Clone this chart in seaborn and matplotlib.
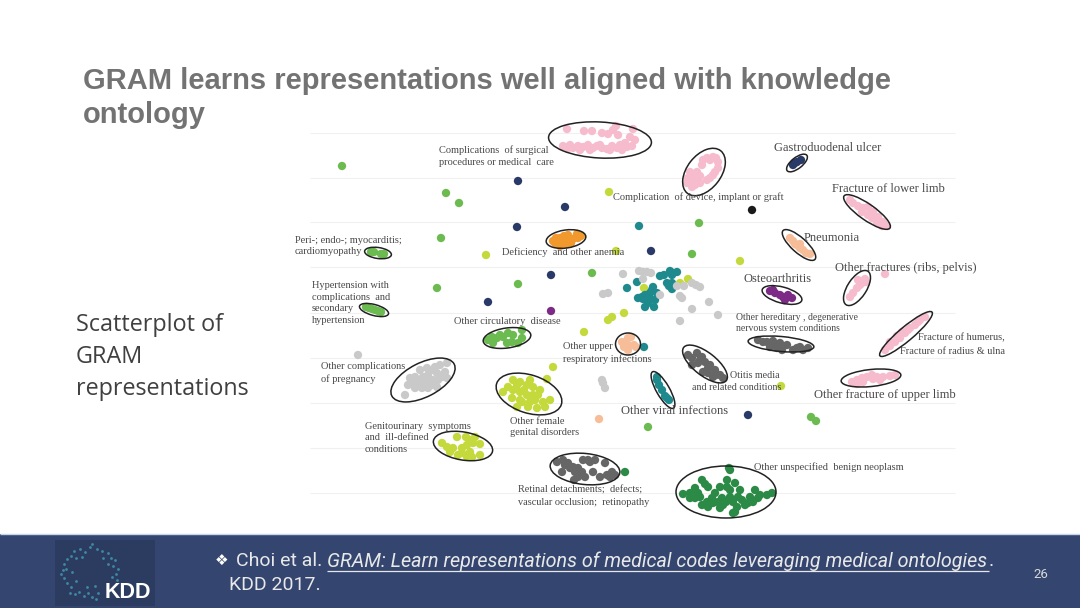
import matplotlib
matplotlib.use('Agg')
import matplotlib.pyplot as plt
from matplotlib.patches import Ellipse, Rectangle
import pandas as pd
import seaborn as sns

# points, in slide pixels
surgical = [(563,146),(568,148),(573,148),(578,146),(583,147),(588,145),(593,148),(597,146),(602,148),
            (607,149),(612,146),(617,148),(622,150),(627,147),(632,146),(635,140),(630,137),(625,143),
            (618,135),(613,130),(616,126),(608,134),(602,133),(592,131),(584,131),(567,129),(633,129),
            (570,145),(580,150),(590,150),(600,145),(610,150),(620,145)]
device = [(687,183),(692,187),(698,180),(692,177),(697,172),(702,165),(707,158),(713,157),(718,162),
          (718,168),(713,175),(707,180),(700,183),(688,178),(695,185),(715,172),(703,160),(694,182),
          (700,176),(710,160),(716,158),(710,178),(690,172)]
lower_limb = [(850,200),(853,203),(858,206),(863,208),(868,207),(873,212),(878,217),(883,222),(887,226),
              (877,222),(868,215),(862,212),(872,218),(882,226)]
other_fract = [(865,279),(862,283),(857,288),(853,293),(850,297),(858,280),(860,285),(866,282)]
humerus = [(885,350),(890,346),(895,342),(900,338),(905,333),(910,328),(915,325),(920,320),(925,317),
           (890,342),(902,332),(897,336),(908,330),(918,322)]
upper_limb = [(852,382),(857,380),(862,378),(867,377),(872,375),(877,377),(883,377),(890,376),(895,375),
              (863,382),(873,379),(885,274),(857,384),(880,380)]
pink = surgical + device + lower_limb + other_fract + humerus + upper_limb

navy = [(793,165),(797,162),(801,160),(795,163),(518,181),(565,207),(517,227),(551,275),(488,302),
        (651,251),(748,415)]
black = [(752,210)]
pneumonia = [(790,238),(793,241),(797,245),(800,248),(803,250),(806,253),(810,254),(795,244),(800,244),
             (628,338),(622,342),(626,342),(631,337),(628,345),(634,345),(624,347),(636,347),(628,350),(599,419)]
orange = [(553,241),(556,238),(560,238),(564,236),(568,235),(577,234),(581,236),(559,243),(563,241),
          (567,240),(573,239),(578,238),(566,244),(560,246),(571,243),(555,243)]
purple = [(770,291),(775,293),(780,295),(785,300),(788,295),(792,298),(783,297),(773,290),(551,311)]
light_green = [(342,166),(446,193),(459,203),(441,238),(437,288),(518,284),(692,254),(699,223),(811,417),
               (816,421),(648,427),(592,273),
               (371,252),(374,252),(384,254),(381,254),(366,307),(369,308),(372,309),(375,310),(378,311),(381,312),
               (488,340),(492,337),(497,338),(503,337),(508,333),(513,335),(512,342),(507,343),(522,330),
               (522,338),(518,343),(493,343),(500,335)]
lime = [(609,192),(486,255),(616,251),(740,261),(624,313),(608,320),(612,317),(584,332),(553,367),(547,379),
        (781,386),(644,288),(680,283),(688,279),
        (513,380),(517,385),(508,387),(503,392),(512,398),(520,392),(527,385),(533,387),(540,390),(527,395),
        (522,402),(530,402),(537,408),(545,407),(550,400),(543,402),(533,395),(517,407),(528,407),(538,395),
        (520,382),(513,390),(524,390),(535,400),(530,380),(520,400),
        (442,443),(447,447),(453,448),(457,437),(466,437),(475,437),(473,443),(467,445),(462,448),(480,444),
        (470,452),(480,455),(458,455),(472,457),(467,457),(450,452),(470,440),(462,453)]
teal = [(639,226),(627,288),(637,282),(660,276),(664,275),(670,271),(673,273),(677,272),(672,275),(667,283),
        (672,283),(669,286),(672,289),(638,298),(643,299),(647,300),(650,293),(653,287),(657,293),(645,295),
        (648,303),(645,307),(654,307),(655,300),(650,298),(642,297),(652,290),(644,347),
        (657,380),(659,385),(662,390),(665,396),(669,400),(657,377),(667,398)]
gray = [(358,355),(639,271),(643,272),(647,272),(651,273),(623,274),(603,294),(608,293),(643,279),(692,283),
        (696,285),(700,287),(684,286),(677,286),(680,296),(682,298),(709,302),(692,309),(718,315),(680,321),
        (660,295),(602,380),(603,383),(605,388),
        (412,383),(415,377),(420,370),(427,368),(433,370),(440,365),(447,363),(445,372),(442,377),(433,380),
        (428,375),(420,382),(415,388),(422,388),(428,388),(437,387),(432,385),(423,377),(405,395),(408,385),
        (417,385),(437,373),(447,378),(435,367),(410,378),(426,382),(438,380)]
dark_gray = [(557,462),(563,460),(568,463),(573,467),(562,472),(578,468),(583,460),(590,462),(595,460),
             (605,463),(612,472),(607,475),(600,477),(593,472),(585,477),(578,477),(582,472),(570,468),(615,475),(565,465),
             (575,472),(588,460),(610,477),(574,480),
             (688,355),(692,358),(697,353),(702,357),(705,362),(698,363),(692,365),(710,365),(715,370),(720,375),
             (708,373),(703,372),(713,377),(723,378),(700,360),(708,368),(716,375),
             (758,340),(767,342),(773,341),(780,343),(787,345),(777,348),(770,347),(797,348),(803,350),(793,350),
             (782,350),(808,348),(763,342),(775,344),(800,347)]
forest = [(625,472),(729,468),(683,494),(690,493),(695,488),(702,480),(708,487),(700,497),(695,498),(707,502),
          (715,493),(720,487),(727,480),(730,470),(735,483),(740,490),(730,490),(722,498),(713,503),(723,505),
          (733,502),(742,500),(750,497),(755,490),(760,495),(767,495),(753,502),(733,513),(720,508),(708,507),
          (702,505),(730,497),(745,505),(737,507),(772,493),(705,484),(727,487),(698,493),(712,498),(726,502),
          (738,497),(748,503),(758,498),(718,502),(690,498),(735,512)]

groups = ['pink', 'navy', 'black', 'peach', 'orange', 'purple', 'green', 'lime', 'teal', 'gray', 'dark gray', 'forest']
points = [pink, navy, black, pneumonia, orange, purple, light_green, lime, teal, gray, dark_gray, forest]
colors = ['#f6bccd', '#2a3a68', '#1a1a1a', '#f6bd98', '#f2992e', '#7d2a86', '#6cbb50', '#c4d93c', '#1f8a8e',
          '#c9c9c9', '#666666', '#2b8a45']

rows = []
for g, pts in zip(groups, points):
    rows += [(g, x, y) for x, y in pts]
df = pd.DataFrame(rows, columns=['group', 'x', 'y'])

grid_y = [133, 178, 222, 267, 313, 358, 403, 448, 493]

# cx, cy, long, short, angle
ellipses = [(600,140,103,36,3),(704,172,54,34,-52),(797,163,25,11,-38),(867,212,56,16,35),(799,245,43,15,42),
            (857,288,40,19,-57),(782,295,41,16,15),(566,239,40,18,-8),(378,253,27,11,8),(374,310,30,11,15),
            (507,338,48,20,-8),(423,380,70,34,-27),(529,394,68,38,18),(463,446,60,28,10),(585,469,70,31,6),
            (726,492,100,52,0),(628,344,25,22,0),(663,390,42,13,60),(705,364,54,23,38),(781,344,66,15,5),
            (906,334,68,14,-40),(871,378,60,17,-6)]

labels = [
    (439, 156, 'Complications  of surgical\nprocedures or medical  care', 7.5),
    (774, 148, 'Gastroduodenal ulcer', 9),
    (613, 197, 'Complication  of device, implant or graft', 7.5),
    (832, 189, 'Fracture of lower limb', 9),
    (804, 238, 'Pneumonia', 9),
    (295, 246, 'Peri-; endo-; myocarditis;\ncardiomyopathy', 7.5),
    (502, 252, 'Deficiency  and other anemia', 7.5),
    (835, 268, 'Other fractures (ribs, pelvis)', 9),
    (744, 279, 'Osteoarthritis', 9),
    (312, 303, 'Hypertension with\ncomplications  and\nsecondary\nhypertension', 7.5),
    (736, 323, 'Other hereditary , degenerative\nnervous system conditions', 7),
    (454, 321, 'Other circulatory  disease', 7.5),
    (918, 338, 'Fracture of humerus,', 7.5),
    (900, 351, 'Fracture of radius & ulna', 7.5),
    (563, 353, 'Other upper\nrespiratory infections', 7.5),
    (321, 373, 'Other complications\nof pregnancy', 7.5),
    (730, 375, 'Otitis media', 7.2),
    (692, 388, 'and related conditions', 7.2),
    (814, 395, 'Other fracture of upper limb', 9),
    (621, 411, 'Other viral infections', 9),
    (510, 427, 'Other female\ngenital disorders', 7.5),
    (365, 438, 'Genitourinary  symptoms\nand  ill-defined\nconditions', 7.5),
    (754, 467, 'Other unspecified  benign neoplasm', 7.5),
    (518, 496, 'Retinal detachments;  defects;\nvascular occlusion;  retinopathy', 7.4),
]

logo_dots = [(74,551),(80,549),(85,552),(90,547),(92,544),(97,549),(102,551),(108,553),(111,558),(115,560),
             (113,566),(118,569),(116,574),(112,577),(117,580),(64,564),(67,559),(71,556),(63,570),(61,574),
             (64,578),(67,583),(71,587),(70,593),(75,594),(79,592),(84,596),(88,593),(92,597),(96,599),
             (98,593),(87,587),(76,558),(82,557),(103,558),(108,564),(72,572),(76,581),(95,586),(66,569)]

fig = plt.figure(figsize=(10.8, 6.08), dpi=100)
ax = fig.add_axes([0, 0, 1, 1])
ax.hlines(grid_y, 310, 955, color='#f0f0f0', lw=0.8)

sns.scatterplot(data=df, x='x', y='y', hue='group', palette=dict(zip(groups, colors)), hue_order=groups,
                s=36, linewidth=0, legend=False, ax=ax, zorder=3)

for cx, cy, w, h, a in ellipses:
    ax.add_patch(Ellipse((cx, cy), w, h, angle=a, fill=False, ec='#222222', lw=1.1, zorder=4))

for x, y, s, size in labels:
    ax.text(x, y, s, family='Liberation Serif', fontsize=size, color='#484848', va='center', ha='left',
            linespacing=1.42, zorder=5)

ax.text(83, 98, 'GRAM learns representations well aligned with knowledge\nontology', family='Liberation Sans',
        fontweight='bold', fontsize=21, color='#737373', va='center', ha='left', linespacing=1.28)
ax.text(76, 357, 'Scatterplot of\nGRAM\nrepresentations', family='Open Sans', fontsize=16.8, color='#404040',
        va='center', ha='left', linespacing=1.47)

# footer band
ax.add_patch(Rectangle((0, 534), 1080, 74, fc='#34466f', ec='none', zorder=1))
ax.hlines(533.5, 0, 1080, color='#c6d6e8', lw=1, zorder=2)
ax.add_patch(Rectangle((55, 540), 100, 66, fc='#2c3b60', ec='none', zorder=2))
ax.scatter([p[0] for p in logo_dots], [p[1] for p in logo_dots], s=4, color='#3f8aa3', linewidth=0, zorder=3)
ax.text(105, 593, 'KDD', family='Liberation Sans', fontweight='bold', fontsize=15.5, color='white', va='center', zorder=3)
ax.text(215, 560, '\u2756', family='DejaVu Sans', fontsize=11, color='white', va='center', zorder=3)
ax.text(236, 561, 'Choi et al. ', family='Roboto', fontsize=14, color='#e8e8e8', va='center', zorder=3)
ax.text(327, 561, 'GRAM: Learn representations of medical codes leveraging medical ontologies', family='Roboto',
        style='italic', fontsize=14.2, color='#e8e8e8', va='center', zorder=3)
ax.text(989, 561, '.', family='Roboto', fontsize=14, color='#e8e8e8', va='center', zorder=3)
ax.hlines(570.5, 327, 989, color='#e8e8e8', lw=0.9, zorder=3)
ax.text(229, 585, 'KDD 2017.', family='Roboto', fontsize=14, color='#e8e8e8', va='center', zorder=3)
ax.text(1033, 574, '26', family='Roboto', fontsize=9.5, color='#d8d8d8', va='center', zorder=3)

ax.set_xlim(0, 1080)
ax.set_ylim(608, 0)
ax.axis('off')
fig.savefig('out.png', dpi=100)
